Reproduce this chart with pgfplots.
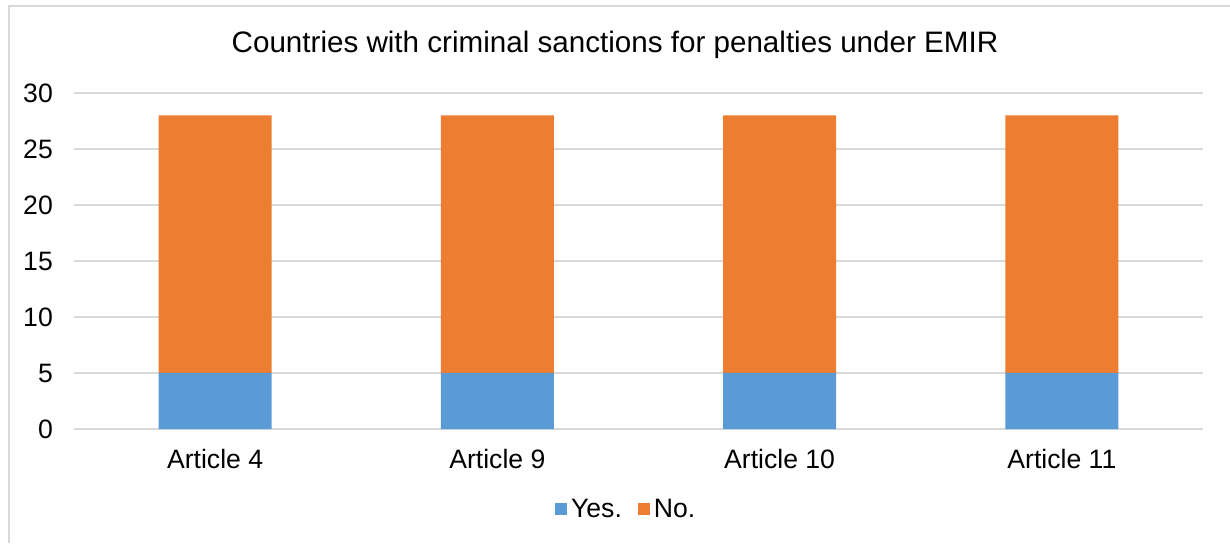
\documentclass[border=0pt]{standalone}
\usepackage{pgfplots}
\pgfplotsset{compat=1.18}
\usepackage{fontspec}
\setmainfont{Liberation Sans}
\definecolor{cblue}{HTML}{5B9BD5}
\definecolor{corange}{HTML}{ED7D31}
\definecolor{cgrid}{HTML}{D9D9D9}
\begin{document}
\begin{tikzpicture}[x=1pt,y=1pt]
\path[use as bounding box] (0,0) rectangle (1230,543);
\draw[cgrid, line width=2pt] (8.5,0) -- (8.5,537) -- (1230,537);
\node[font=\fontsize{29.6}{34}\selectfont, anchor=center] at (615,498) {Countries with criminal sanctions for penalties under EMIR};
\begin{axis}[
  at={(74pt,114pt)}, anchor=south west,
  scale only axis, width=1129pt, height=336pt,
  ybar stacked, bar width=113pt,
  xmin=-0.5, xmax=3.5, ymin=0, ymax=30,
  xtick={0,1,2,3},
  xticklabels={Article 4, Article 9, Article 10, Article 11},
  ytick={0,5,10,15,20,25,30},
  axis line style={draw=none},
  major tick length=0pt,
  ymajorgrids, grid style={cgrid, line width=1.5pt},
  tick label style={font=\fontsize{26.6}{30}\selectfont, inner sep=0pt},
  /pgf/number format/assume math mode=true,
  yticklabel style={anchor=east, xshift=-21pt},
  xticklabel style={anchor=north, yshift=-20pt},
  legend columns=2,
  legend style={at={(0.49,-0.238)}, anchor=center, draw=none, fill=none,
    font=\fontsize{26.6}{30}\selectfont, inner sep=0pt,
    nodes={inner xsep=4pt, inner ysep=0pt},
    /tikz/every even column/.append style={column sep=12pt}},
  legend image code/.code={\fill[#1] (0pt,-6pt) rectangle (12pt,6pt);},
]
\addplot[fill=cblue, draw=none] coordinates {(0,5) (1,5) (2,5) (3,5)};
\addplot[fill=corange, draw=none] coordinates {(0,23) (1,23) (2,23) (3,23)};
\legend{Yes., No.}
\end{axis}
\end{tikzpicture}
\end{document}
